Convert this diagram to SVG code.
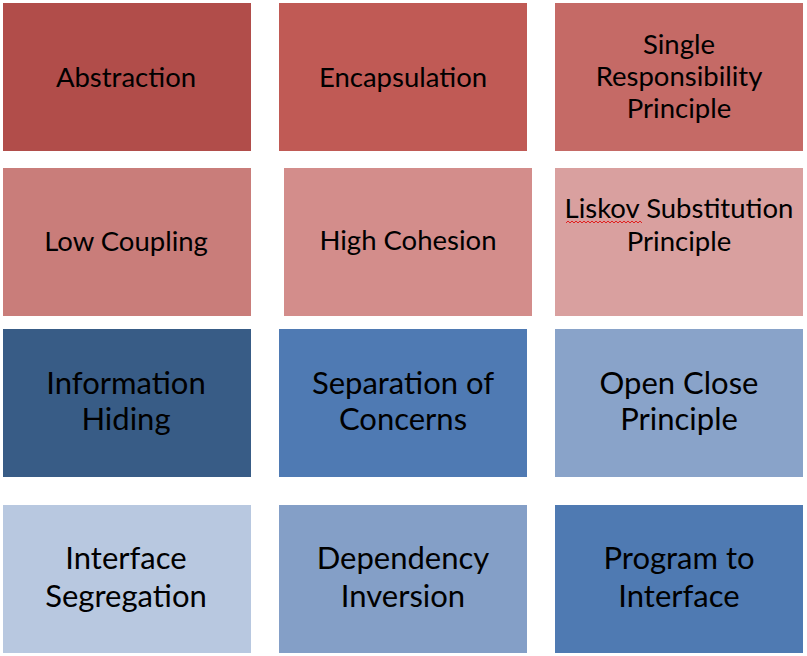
<svg xmlns="http://www.w3.org/2000/svg" width="807" height="656" viewBox="0 0 807 656">
<style>
text{font-family:Lato,"Open Sans","Liberation Sans",sans-serif;fill:#000;text-anchor:middle}
.s{font-size:27.5px}
.b{font-size:31px}
</style>
<rect width="807" height="656" fill="#fff"/>
<g id="n1"><rect x="3" y="3" width="248" height="148" fill="#B14D4A"/><text class="s" x="126" y="87">Abstraction</text></g>
<g id="n2"><rect x="279" y="3" width="248" height="148" fill="#C05A55"/><text class="s" x="403" y="87">Encapsulation</text></g>
<g id="n3"><rect x="555" y="3" width="248" height="148" fill="#C56A66"/><text class="s" x="679" y="54">Single</text><text class="s" x="679" y="86">Responsibility</text><text class="s" x="679" y="118">Principle</text></g>
<g id="n4"><rect x="3" y="168" width="248" height="148" fill="#C97D7A"/><text class="s" x="126" y="251">Low Coupling</text></g>
<g id="n5"><rect x="284" y="168" width="248" height="148" fill="#D38D8B"/><text class="s" x="408" y="250">High Cohesion</text></g>
<g id="n6"><rect x="555" y="168" width="248" height="148" fill="#D9A09F"/><text class="s" x="679" y="218">Liskov Substitution</text><text class="s" x="679" y="251">Principle</text><path d="M566 223 l2 -2 l2 2 l2 -2 l2 2 l2 -2 l2 2 l2 -2 l2 2 l2 -2 l2 2 l2 -2 l2 2 l2 -2 l2 2 l2 -2 l2 2 l2 -2 l2 2 l2 -2 l2 2 l2 -2 l2 2 l2 -2 l2 2 l2 -2 l2 2 l2 -2 l2 2 l2 -2 l2 2 l2 -2 l2 2 l2 -2 l2 2 l2 -2 l2 2 l2 -2 l2 2" fill="none" stroke="#e02020" stroke-width="1"/></g>
<g id="n7"><rect x="3" y="329" width="248" height="148" fill="#385C86"/><text class="b" x="126" y="394">Information</text><text class="b" x="126" y="430">Hiding</text></g>
<g id="n8"><rect x="279" y="329" width="248" height="148" fill="#4F7AB3"/><text class="b" x="403" y="394">Separation of</text><text class="b" x="403" y="430">Concerns</text></g>
<g id="n9"><rect x="555" y="329" width="248" height="148" fill="#89A3C9"/><text class="b" x="679" y="394">Open Close</text><text class="b" x="679" y="430">Principle</text></g>
<g id="n10"><rect x="3" y="505" width="248" height="148" fill="#B8C8E0"/><text class="b" x="126" y="569">Interface</text><text class="b" x="126" y="607">Segregation</text></g>
<g id="n11"><rect x="279" y="505" width="248" height="148" fill="#849FC7"/><text class="b" x="403" y="569">Dependency</text><text class="b" x="403" y="607">Inversion</text></g>
<g id="n12"><rect x="555" y="505" width="248" height="148" fill="#4F7AB2"/><text class="b" x="679" y="569">Program to</text><text class="b" x="679" y="607">Interface</text></g>
<g id="connectors"></g>
</svg>
